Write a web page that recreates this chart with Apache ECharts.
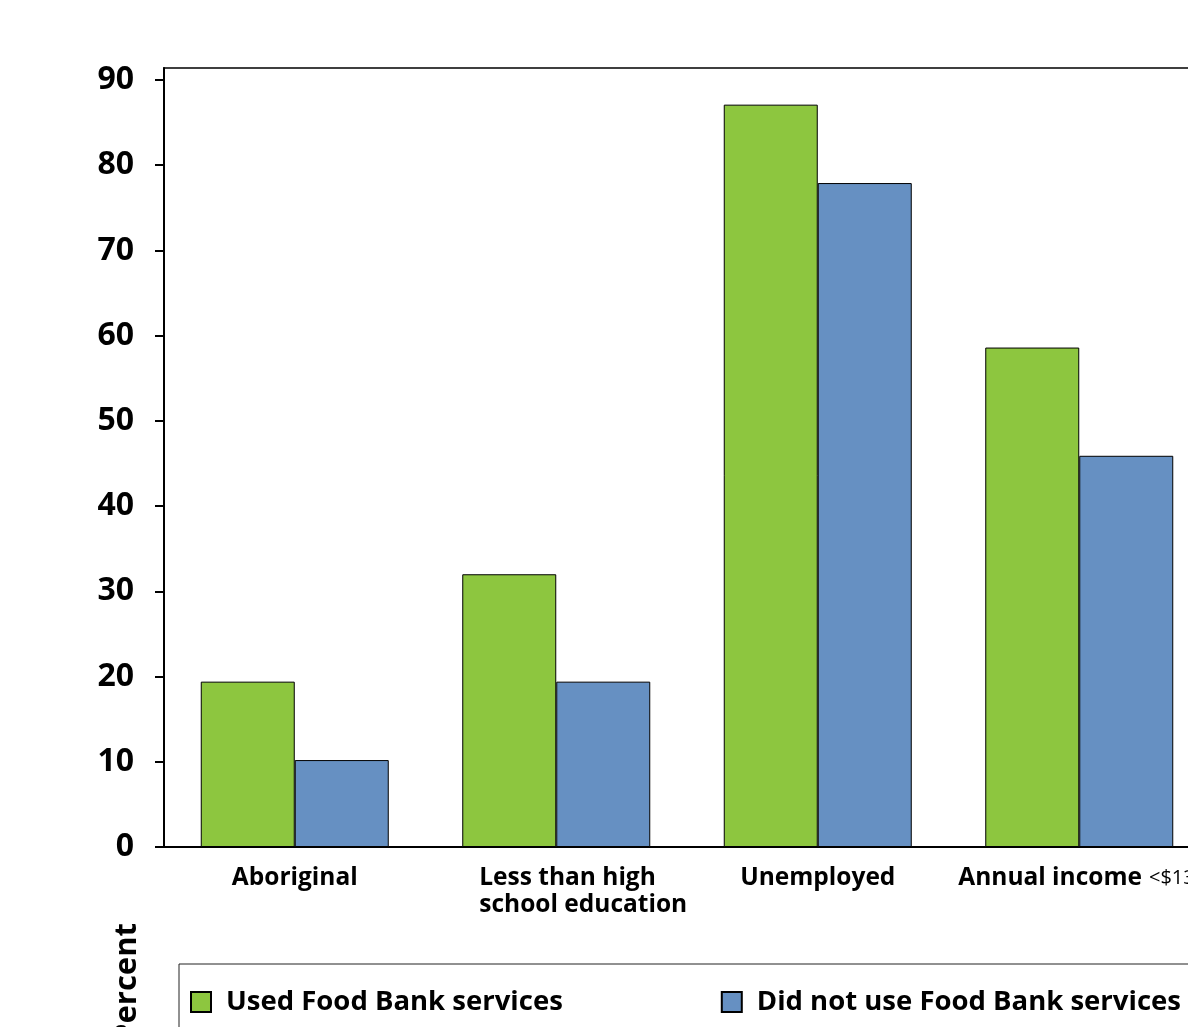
<!DOCTYPE html>
<html>
<head>
<meta charset="utf-8">
<script src="https://cdn.jsdelivr.net/npm/echarts@6/dist/echarts.min.js"></script>
<style>
  html, body { margin: 0; padding: 0; background: #fff; }
  #chart { width: 1188px; height: 1027px; }
</style>
</head>
<body>
<div id="chart"></div>
<script>
  // categories and values (percent)
  var categories = ['Aboriginal', 'Less than high school education', 'Unemployed', 'Annual income <$13,000']
  var usedFoodBank = [19.4, 32.0, 87.1, 58.6]
  var didNotUse = [10.2, 19.4, 77.9, 45.9]
  var yTicks = [0, 10, 20, 30, 40, 50, 60, 70, 80, 90]
  var seriesNames = ['Used Food Bank services', 'Did not use Food Bank services']

  var FONT = '"Open Sans", "DejaVu Sans", sans-serif'

  var chart = echarts.init(document.getElementById('chart'))

  var option = {
    animation: false,
    grid: {
      left: 164,
      top: 68,
      width: 1046,
      height: 779,
      show: true,
      borderColor: '#000',
      borderWidth: 1.5,
      containLabel: false,
      outerBoundsMode: 'none'
    },
    legend: {
      left: 179,
      top: 964,
      width: 1150,
      orient: 'horizontal',
      padding: [24, 50, 40, 11],
      borderColor: '#222',
      borderWidth: 1,
      itemWidth: 20,
      itemHeight: 20,
      itemGap: 158,
      icon: 'rect',
      itemStyle: { borderColor: '#000', borderWidth: 2 },
      textStyle: {
        fontFamily: FONT,
        fontWeight: 'bold',
        fontSize: 27.5,
        color: '#000',
        padding: [0, 0, 0, 10]
      },
      data: seriesNames
    },
    xAxis: {
      type: 'category',
      data: categories,
      axisLine: { lineStyle: { color: '#000', width: 2 } },
      axisTick: { show: false },
      axisLabel: {
        margin: 18,
        interval: 0,
        color: '#000',
        fontFamily: FONT,
        fontWeight: 'bold',
        fontSize: 24.5,
        lineHeight: 27,
        formatter: function (v) {
          if (v.indexOf('Less') === 0) {
            return '{l|Less than high}\n{l|school education}'
          }
          if (v.indexOf('Annual') === 0) {
            return '{b|Annual income}{r|<$13,000}'
          }
          return v
        },
        rich: {
          l: { fontFamily: FONT, fontWeight: 'bold', fontSize: 24.5, lineHeight: 27, width: 207, padding: [0, 0, 0, 53], align: 'left', color: '#000' },
          b: { fontFamily: FONT, fontWeight: 'bold', fontSize: 24.5, padding: [0, 0, 0, 34], color: '#000' },
          r: { fontFamily: FONT, fontWeight: 'normal', fontSize: 20, padding: [0, 0, 0, 7], color: '#000' }
        }
      }
    },
    yAxis: {
      type: 'value',
      min: 0,
      max: 91.4,
      interval: 10,
      splitLine: { show: false },
      axisLine: { show: true, lineStyle: { color: '#000', width: 2 } },
      axisTick: { show: true, length: 9, lineStyle: { color: '#000', width: 2 }, customValues: yTicks },
      axisLabel: {
        margin: 30,
        color: '#000',
        fontFamily: FONT,
        fontWeight: 'bold',
        fontSize: 32,
        customValues: yTicks
      }
    },
    graphic: [{
      type: 'text',
      x: 127,
      y: 923,
      rotation: Math.PI / 2,
      style: {
        text: 'Percent',
        fontFamily: FONT,
        fontWeight: 'bold',
        fontSize: 31,
        fill: '#000',
        align: 'right',
        verticalAlign: 'middle'
      }
    }],
    series: [
      {
        name: seriesNames[0],
        type: 'bar',
        barWidth: 94,
        barGap: '0%',
        itemStyle: { color: '#8DC63F', borderColor: '#000', borderWidth: 1 },
        data: usedFoodBank
      },
      {
        name: seriesNames[1],
        type: 'bar',
        barWidth: 94,
        barGap: '0%',
        itemStyle: { color: '#6690C2', borderColor: '#000', borderWidth: 1 },
        data: didNotUse
      }
    ]
  }

  chart.setOption(option)
</script>
</body>
</html>
